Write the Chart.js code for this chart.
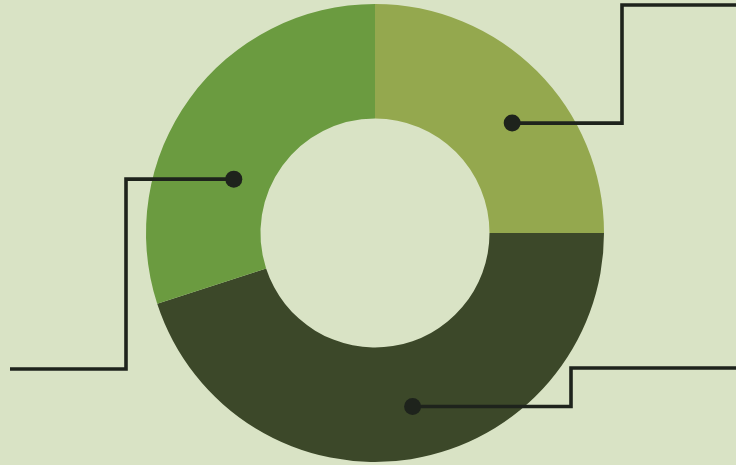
<!DOCTYPE html>
<html>
<head>
<meta charset="utf-8">
<script src="https://cdn.jsdelivr.net/npm/chart.js@4"></script>
<style>
  html, body { margin: 0; padding: 0; background: #d9e3c5; }
  #wrap { width: 736px; height: 465px; position: relative; }
</style>
</head>
<body>
<div id="wrap"><canvas id="donut"></canvas></div>
<script>
const LABELS = ['A', 'B', 'C'];
const VALUES = [25, 45, 30];
const COLORS = ['#94a84e', '#3c4829', '#6b9b40'];

// where each leader line starts inside its slice (fraction along the arc, fraction across the ring)
// and where it bends / ends on the page
const leaders = [
  { along: 0.57, across: 0.535, bendX: 622, endY: 5,   endX: 736 },
  { along: 0.48, across: 0.55,  bendX: 571, endY: 368, endX: 736 },
  { along: 0.36, across: 0.32,  bendX: 126, endY: 369, endX: 10 },
];

const leaderPlugin = {
  id: 'leaders',
  afterDatasetsDraw(chart) {
    const ctx = chart.ctx;
    const arcs = chart.getDatasetMeta(0).data;
    ctx.save();
    ctx.strokeStyle = '#1e231c';
    ctx.fillStyle = '#1e231c';
    ctx.lineWidth = 3.6;
    ctx.lineJoin = 'miter';
    arcs.forEach((arc, i) => {
      const l = leaders[i];
      if (!l) return;
      const { x, y, startAngle, endAngle, innerRadius, outerRadius } = arc.getProps(['x', 'y', 'startAngle', 'endAngle', 'innerRadius', 'outerRadius'], true);
      const a = startAngle + (endAngle - startAngle) * l.along;
      const r = innerRadius + (outerRadius - innerRadius) * l.across;
      const px = x + Math.cos(a) * r;
      const py = y + Math.sin(a) * r;
      ctx.beginPath();
      ctx.moveTo(px, py);
      ctx.lineTo(l.bendX, py);
      ctx.lineTo(l.bendX, l.endY);
      ctx.lineTo(l.endX, l.endY);
      ctx.stroke();
      ctx.beginPath();
      ctx.arc(px, py, 8.5, 0, Math.PI * 2);
      ctx.fill();
    });
    ctx.restore();
  }
};

new Chart(document.getElementById('donut').getContext('2d'), {
  type: 'doughnut',
  data: {
    labels: LABELS,
    datasets: [{ data: VALUES, backgroundColor: COLORS, borderWidth: 0, hoverOffset: 0 }]
  },
  options: {
    responsive: true,
    maintainAspectRatio: false,
    animation: false,
    cutout: '50%',
    layout: { padding: { top: 4, bottom: 3, left: 14, right: 0 } },
    plugins: { legend: { display: false }, tooltip: { enabled: false } }
  },
  plugins: [leaderPlugin]
});
</script>
</body>
</html>
